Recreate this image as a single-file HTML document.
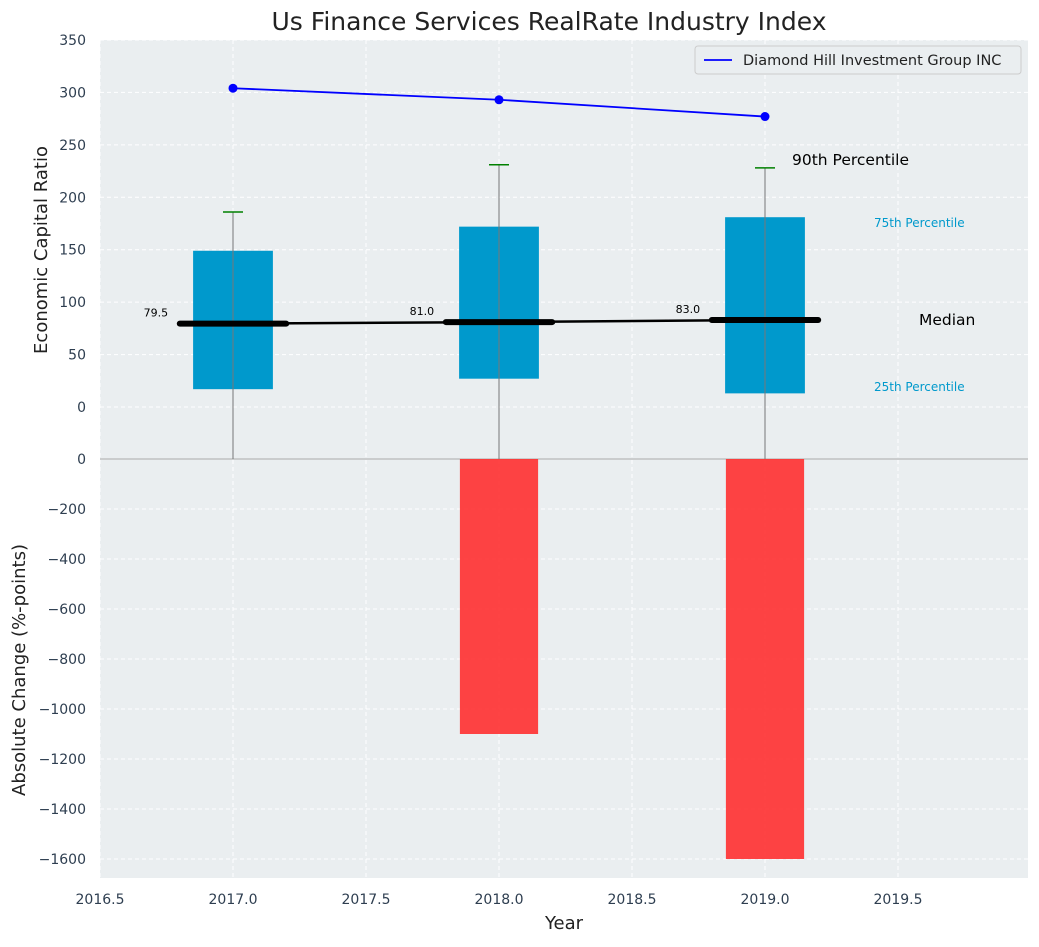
<!DOCTYPE html>
<html><head><meta charset="utf-8"><style>
body{margin:0;background:#fff;font-family:"Liberation Sans","DejaVu Sans",sans-serif;}
svg text{font-family:"DejaVu Sans","Liberation Sans",sans-serif;}
</style></head><body>
<svg id="chart" width="1039" height="942" xmlns="http://www.w3.org/2000/svg"></svg>
<script>
const years=[2017,2018,2019];
const p25=[17,27,13];
const p75=[149,172,181];
const p90=[186,231,228];
const medians=[79.5,81.0,83.0];
const companyVals=[304,293,277];
const changes=[0,-1100,-1600];
const xTicks=[2016.5,2017.0,2017.5,2018.0,2018.5,2019.0,2019.5];
const yTopTicks=[0,50,100,150,200,250,300,350];
const yBotTicks=[-1600,-1400,-1200,-1000,-800,-600,-400,-200,0];

const svg=document.getElementById('chart');
const NS='http://www.w3.org/2000/svg';
const L=100,R=1028,T1=40,B1=459,T2=459,B2=878;
const xMin=2016.5,xMax=2016.5+(R-L)/266;
const X=v=>L+(v-xMin)/(xMax-xMin)*(R-L);
const Y1=v=>407-(v)*(367/350);
const Y2=v=>459-v*(400/1600);
function el(tag,attrs,name,txt){const e=document.createElementNS(NS,tag);for(const k in attrs)e.setAttribute(k,attrs[k]);


if(txt!==undefined)e.textContent=txt;svg.appendChild(e);return e;}

el('rect',{x:L,y:T1,width:R-L,height:B2-T1,fill:'#eaeef0'},'plot-background');
xTicks.forEach(t=>{el('line',{x1:X(t),x2:X(t),y1:T1,y2:B2,stroke:'#fff','stroke-dasharray':'4,3','stroke-width':1},'x-grid-line');
el('text',{x:X(t),y:904,'text-anchor':'middle','font-size':14,fill:'#2e3e50'},'x-tick-label',t.toFixed(1));});
yTopTicks.forEach(t=>{el('line',{x1:L,x2:R,y1:Y1(t),y2:Y1(t),stroke:'#fff','stroke-dasharray':'4,3'},'y-grid-line-top');
el('text',{x:L-14,y:Y1(t)+5,'text-anchor':'end','font-size':14,fill:'#2e3e50'},'y-tick-label-top',t);});
yBotTicks.forEach(t=>{el('line',{x1:L,x2:R,y1:Y2(t),y2:Y2(t),stroke:'#fff','stroke-dasharray':'4,3'},'y-grid-line-bottom');
el('text',{x:L-14,y:Y2(t)+5,'text-anchor':'end','font-size':14,fill:'#2e3e50'},'y-tick-label-bottom',String(t).replace('-','\u2212'));});
el('line',{x1:L,x2:R,y1:459,y2:459,stroke:'#aaa','stroke-width':1},'axes-divider');

years.forEach((y,i)=>{const v=changes[i];if(v===0)return;
el('rect',{x:X(y-0.147),y:Y2(0),width:X(y+0.147)-X(y-0.147),height:Y2(v)-Y2(0),fill:'#ff2a2a','fill-opacity':0.88},'change-bar-'+y);});

years.forEach((y,i)=>{
el('rect',{x:X(y-0.15),y:Y1(p75[i]),width:X(y+0.15)-X(y-0.15),height:Y1(p25[i])-Y1(p75[i]),fill:'#0099cc'},'iqr-box-'+y);
el('line',{x1:X(y),x2:X(y),y1:Y1(p90[i]),y2:459,stroke:'#777','stroke-width':1},'whisker-'+y);
el('line',{x1:X(y)-10,x2:X(y)+10,y1:Y1(p90[i]),y2:Y1(p90[i]),stroke:'green','stroke-width':1.5},'p90-cap-'+y);
});
el('polyline',{points:years.map((y,i)=>X(y)+','+Y1(medians[i])).join(' '),fill:'none',stroke:'#000','stroke-width':2.5},'median-trend-line');
years.forEach((y,i)=>{
el('line',{x1:X(y-0.2),x2:X(y+0.2),y1:Y1(medians[i]),y2:Y1(medians[i]),stroke:'#000','stroke-width':6,'stroke-linecap':'round'},'median-bar-'+y);
el('text',{x:X(y-0.29),y:Y1(medians[i])-7,'text-anchor':'middle','font-size':11,fill:'#000'},'median-label-'+y,medians[i].toFixed(1));
});
el('polyline',{points:years.map((y,i)=>X(y)+','+Y1(companyVals[i])).join(' '),fill:'none',stroke:'#0000ff','stroke-width':1.8},'company-line');
years.forEach((y,i)=>el('circle',{cx:X(y),cy:Y1(companyVals[i]),r:4.5,fill:'#0000ff'},'company-point-'+y));

el('text',{x:792,y:165,'font-size':15.5,fill:'#000'},'p90-annotation','90th Percentile');
el('text',{x:874,y:227,'font-size':12,fill:'#0099cc'},'p75-annotation','75th Percentile');
el('text',{x:919,y:325,'font-size':15.5,fill:'#000'},'median-annotation','Median');
el('text',{x:874,y:391,'font-size':12,fill:'#0099cc'},'p25-annotation','25th Percentile');

el('rect',{x:695,y:46,width:326,height:28,fill:'#eaeef0',stroke:'#ccc',rx:3},'legend-box');
el('line',{x1:704,x2:732,y1:60,y2:60,stroke:'#0000ff','stroke-width':1.8},'legend-line');
el('text',{x:743,y:65,'font-size':14.5,fill:'#222'},'legend-entry','Diamond Hill Investment Group INC');

el('text',{x:549,y:30,'text-anchor':'middle','font-size':25,fill:'#222'},'chart-title','Us Finance Services RealRate Industry Index');
el('text',{x:564,y:929,'text-anchor':'middle','font-size':18,fill:'#222'},'x-axis-title','Year');
el('text',{x:47,y:250,'text-anchor':'middle','font-size':18,fill:'#222',transform:'rotate(-90 47 250)'},'y-axis-title-top','Economic Capital Ratio');
el('text',{x:25,y:670,'text-anchor':'middle','font-size':18,fill:'#222',transform:'rotate(-90 25 670)'},'y-axis-title-bottom','Absolute Change (%-points)');
</script>
</body></html>
